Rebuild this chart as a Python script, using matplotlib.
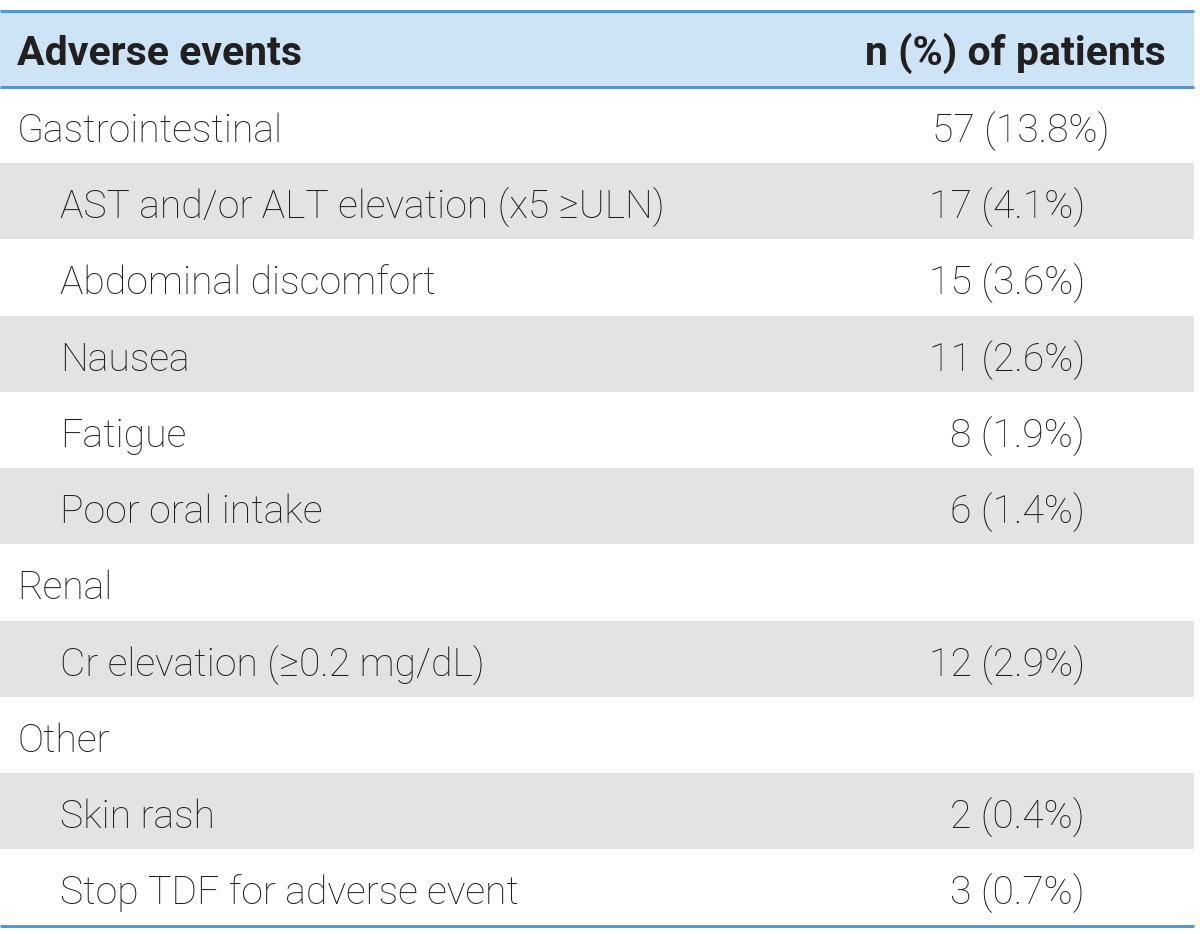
import matplotlib
matplotlib.use("Agg")
import matplotlib.pyplot as plt
from matplotlib.patches import Rectangle

header = ["Adverse events", "n (%) of patients"]
labels = ["Gastrointestinal", "AST and/or ALT elevation (x5 \u2265ULN)", "Abdominal discomfort",
          "Nausea", "Fatigue", "Poor oral intake", "Renal", "Cr elevation (\u22650.2 mg/dL)",
          "Other", "Skin rash", "Stop TDF for adverse event"]
values = ["57 (13.8%)", "17 (4.1%)", "15 (3.6%)", "11 (2.6%)", "8 (1.9%)", "6 (1.4%)",
          "", "12 (2.9%)", "", "2 (0.4%)", "3 (0.7%)"]
indent = [0, 1, 1, 1, 1, 1, 0, 1, 0, 1, 1]

W, H = 1200, 934
fig = plt.figure(figsize=(W / 100, H / 100), dpi=100)
ax = fig.add_axes([0, 0, 1, 1])
ax.set_xlim(0, W)
ax.set_ylim(H, 0)
ax.axis("off")

fam = ["Roboto", "DejaVu Sans"]
txt = "#231f20"
top, bottom = 10.5, 925.5
nrows = len(labels) + 1
rh = (bottom - top) / nrows
left, right = 0, 1194

ax.add_patch(Rectangle((left, top), right - left, rh, facecolor="#cde4f6", edgecolor="none"))
for i in range(len(labels)):
    y0 = top + rh * (i + 1)
    if i % 2 == 1:
        ax.add_patch(Rectangle((left, y0), right - left, rh, facecolor="#e2e3e5", edgecolor="none"))

line_c = "#5a96cc"
for y in (top, top + rh, bottom):
    ax.plot([left, right], [y, y], color=line_c, lw=2.2, solid_capstyle="butt")

fs = 28.2
hfs = 29.5
ax.text(17, top + rh / 2 + 16, header[0], ha="left", va="baseline", fontsize=hfs,
        fontweight="bold", family=fam, color=txt)
ax.text(1166, top + rh / 2 + 16, header[1], ha="right", va="baseline", fontsize=hfs,
        fontweight="bold", family=fam, color=txt)

for i, (lab, val) in enumerate(zip(labels, values)):
    yb = top + rh * (i + 1.5) + 17
    x = 60 if indent[i] else 17
    ax.text(x, yb, lab, ha="left", va="baseline", fontsize=fs, fontweight="light",
            family=fam, color=txt)
    if val:
        xr = 1110 if len(val.split("(")[1]) > 5 else 1085
        ax.text(xr, yb, val, ha="right", va="baseline", fontsize=fs, fontweight="light",
                family=fam, color=txt)

fig.savefig("out.png", dpi=100, facecolor="white")
